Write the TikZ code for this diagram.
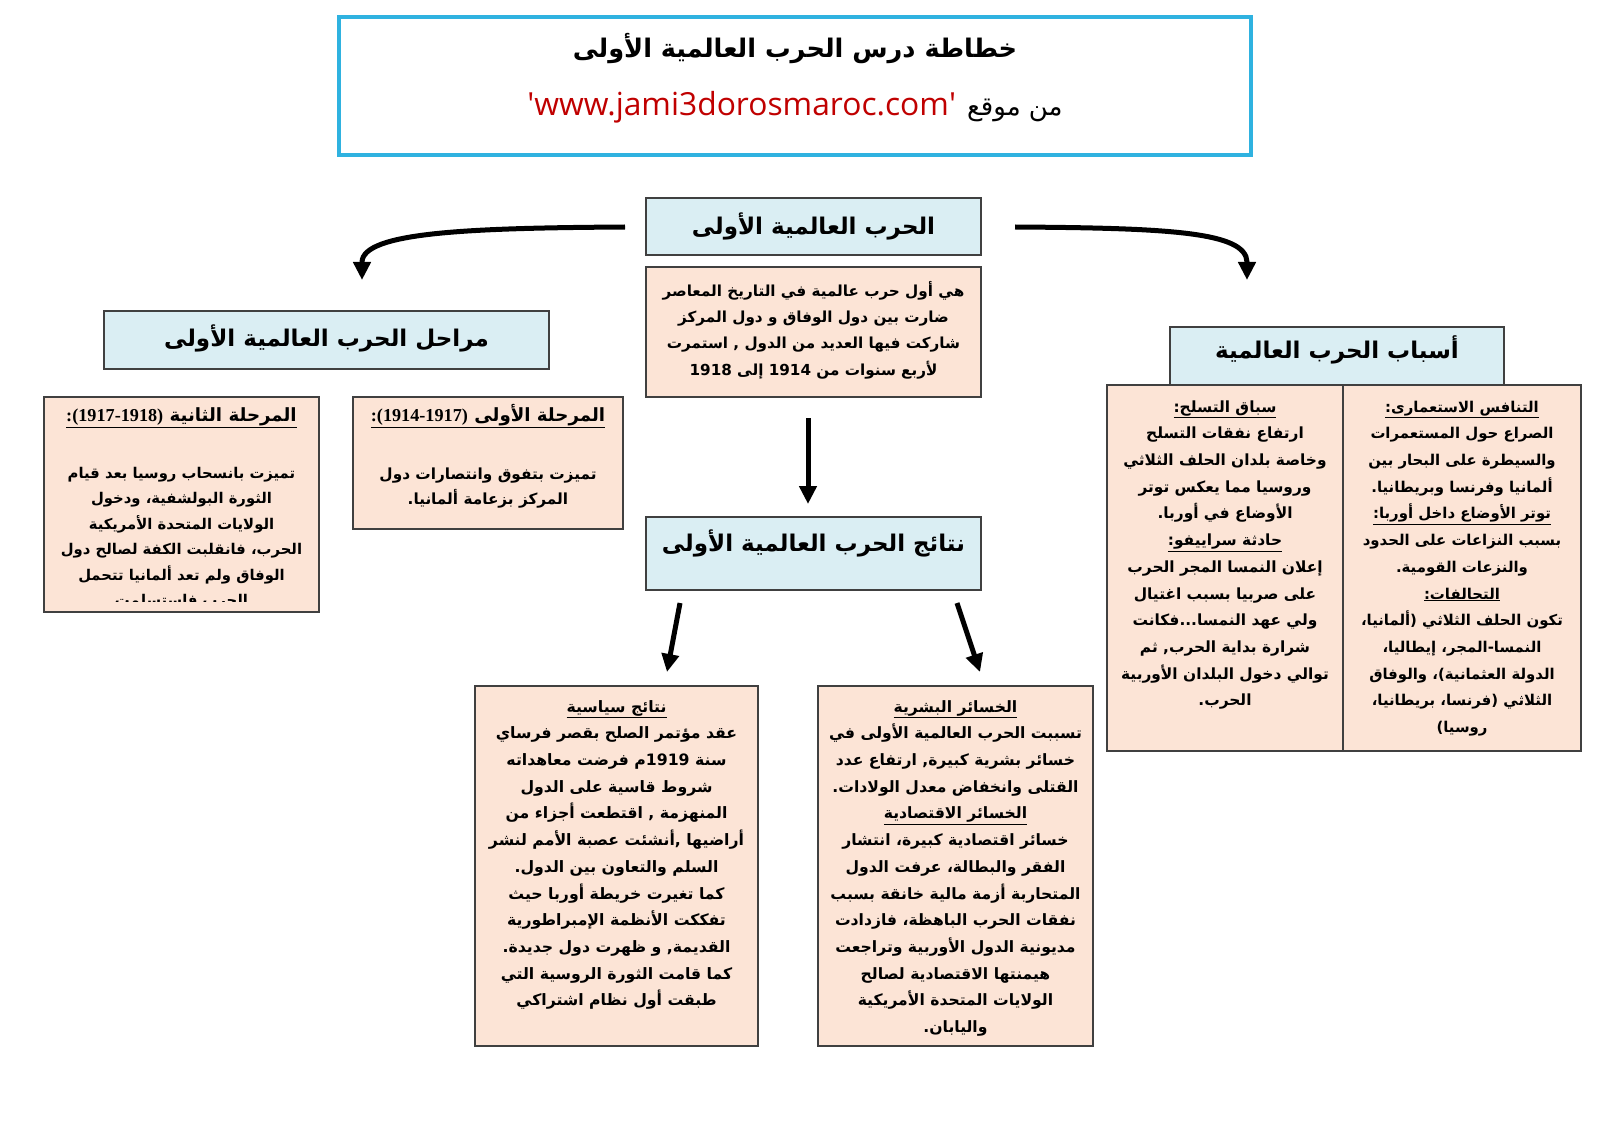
\documentclass[tikz,border=0pt]{standalone}
\usepackage{fontspec}
\usetikzlibrary{arrows.meta}
\TeXXeTstate=1
\newfontfamily\ar[Script=Arabic]{DejaVu Sans}
\newfontfamily\urlf{Open Sans}
\newfontfamily\serifb{Liberation Serif}
\definecolor{hdrblue}{HTML}{DAEEF3}
\definecolor{peach}{HTML}{FCE4D6}
\definecolor{bord}{HTML}{404040}
\definecolor{cyanb}{HTML}{2FB2E0}
\definecolor{urlred}{HTML}{C00000}
\newcommand\ArL[1]{\strut\beginR #1\endR}
\newcommand\ArU[1]{\strut\underline{\hbox{\beginR #1\endR}}}
\newcommand\bfs[2]{\fontsize{#1}{#2}\selectfont\ar\bfseries}
\begin{document}
\begin{tikzpicture}[x=1pt,y=-1pt,
  hdr/.style={draw=bord, line width=1.5pt, fill=hdrblue, inner sep=0pt, outer sep=0pt, anchor=north west},
  pbox/.style={draw=bord, line width=1.3pt, fill=peach, inner sep=0pt, outer sep=0pt, anchor=north west},
  body/.style={anchor=north, inner sep=0pt, align=center},
  ptitle/.style={anchor=base, inner sep=0pt, font=\bfs{18.2}{25.5}},
  hdrtxt/.style={anchor=base, inner sep=0pt, font=\bfs{23}{30}},
  arr/.style={line width=5pt, -{Triangle[length=18pt,width=17pt]}}]
\useasboundingbox (0,0) rectangle (1600,1131);
\fill[white] (0,0) rectangle (1600,1131);

% title box
\node[draw=cyanb, line width=3.5pt, inner sep=0pt, outer sep=0pt, anchor=north west,
      minimum width=912pt, minimum height=138pt] (titlebox) at (339,17) {};
\node[anchor=base, inner sep=0pt, font=\bfs{25.6}{32}] (title) at (795,58)
  {\beginR خطاطة درس الحرب العالمية الأولى\endR};
\node[anchor=base, inner sep=0pt] (url) at (795,116)
  {{\urlf\fontsize{31.8}{38}\selectfont\color{urlred}\textquotesingle www.jami3dorosmaroc.com\textquotesingle}\hspace{11pt}{\ar\fontsize{26}{32}\selectfont\beginR من موقع\endR}};

% central header and description
\node[hdr, minimum width=335pt, minimum height=57pt] (main) at (646,198) {};
\node[hdrtxt] (maint) at (813.5,235) {\beginR الحرب العالمية الأولى\endR};
\node[pbox, minimum width=335pt, minimum height=130pt] (desc) at (646,267) {};
\node[body, font=\bfs{15.2}{26.3}] (desct) at (813.5,277.6) {%
  \ArL{هي أول حرب عالمية في التاريخ المعاصر}\\
  \ArL{ضارت بين دول الوفاق و دول المركز}\\
  \ArL{شاركت فيها العديد من الدول , استمرت}\\
  \ArL{لأربع سنوات من 1914 إلى 1918}};

% phases
\node[hdr, minimum width=445pt, minimum height=58pt] (phases) at (104,311) {};
\node[hdrtxt] (phasest) at (326.5,347) {\beginR مراحل الحرب العالمية الأولى\endR};

\node[pbox, minimum width=270pt, minimum height=132pt] (ph1) at (353,397) {};
\node[ptitle] (ph1t) at (488,421) {\ArU{المرحلة الأولى \beginL{\serifb\bfseries :(1914-1917)}\endL}};
\node[body, font=\bfs{15.3}{25.5}] (ph1b) at (488,461) {%
  \ArL{تميزت بتفوق وانتصارات دول}\\
  \ArL{المركز بزعامة ألمانيا.}};

\node[pbox, minimum width=275pt, minimum height=215pt] (ph2) at (44,397) {};
\node[ptitle] (ph2t) at (181.5,421) {\ArU{المرحلة الثانية \beginL{\serifb\bfseries :(1917-1918)}\endL}};
\begin{scope}
\clip (46,430) rectangle (317,601);
\node[body, font=\bfs{14.8}{25.5}] (ph2b) at (181.5,460) {%
  \ArL{تميزت بانسحاب روسيا بعد قيام}\\
  \ArL{الثورة البولشفية، ودخول}\\
  \ArL{الولايات المتحدة الأمريكية}\\
  \ArL{الحرب، فانقلبت الكفة لصالح دول}\\
  \ArL{الوفاق ولم تعد ألمانيا تتحمل}\\
  \ArL{الحرب فاستسلمت}};
\end{scope}

% causes
\node[pbox, minimum width=236pt, minimum height=366pt] (cause1) at (1107,385) {};
\node[pbox, minimum width=238pt, minimum height=366pt] (cause2) at (1343,385) {};
\node[hdr, minimum width=334pt, minimum height=58pt] (causes) at (1170,327) {};
\node[hdrtxt] (causest) at (1337,358) {\beginR أسباب الحرب العالمية\endR};

\node[body, font=\bfs{15.4}{26.7}] (cause1t) at (1225,393.3) {%
  \ArU{سباق التسلح:}\\
  \ArL{ارتفاع نفقات التسلح}\\
  \ArL{وخاصة بلدان الحلف الثلاثي}\\
  \ArL{وروسيا مما يعكس توتر}\\
  \ArL{الأوضاع في أوربا.}\\
  \ArU{حادثة سراييفو:}\\
  \ArL{إعلان النمسا المجر الحرب}\\
  \ArL{على صربيا  بسبب اغتيال}\\
  \ArL{ولي عهد النمسا...فكانت}\\
  \ArL{شرارة بداية الحرب, ثم}\\
  \ArL{توالي دخول البلدان الأوربية}\\
  \ArL{الحرب.}};

\node[body, font=\bfs{14.9}{26.7}] (cause2t) at (1462,393.3) {%
  \ArU{التنافس الاستعمارى:}\\
  \ArL{الصراع حول المستعمرات}\\
  \ArL{والسيطرة على البحار بين}\\
  \ArL{ألمانيا وفرنسا وبريطانيا.}\\
  \ArU{توتر الأوضاع داخل أوربا:}\\
  \ArL{بسبب النزاعات على الحدود}\\
  \ArL{والنزعات القومية.}\\
  \ArU{التحالفات:}\\
  \ArL{تكون الحلف الثلاثي (ألمانيا،}\\
  \ArL{النمسا-المجر، إيطاليا،}\\
  \ArL{الدولة العثمانية)، والوفاق}\\
  \ArL{الثلاثي (فرنسا، بريطانيا،}\\
  \ArL{روسيا)}};

% results
\node[hdr, minimum width=335pt, minimum height=73pt] (res) at (646,517) {};
\node[hdrtxt] (rest) at (813.5,551) {\beginR نتائج الحرب العالمية الأولى\endR};

\node[pbox, minimum width=283pt, minimum height=360pt] (pol) at (475,686) {};
\node[body, font=\bfs{15.7}{26.7}] (polt) at (616.5,693.3) {%
  \ArU{نتائج سياسية}\\
  \ArL{عقد مؤتمر الصلح بقصر فرساي}\\
  \ArL{سنة 1919م فرضت معاهداته}\\
  \ArL{شروط قاسية على الدول}\\
  \ArL{المنهزمة , اقتطعت أجزاء من}\\
  \ArL{أراضيها ,أنشئت عصبة الأمم لنشر}\\
  \ArL{السلم والتعاون بين الدول.}\\
  \ArL{كما تغيرت خريطة أوربا حيث}\\
  \ArL{تفككت الأنظمة الإمبراطورية}\\
  \ArL{القديمة,  و ظهرت دول جديدة.}\\
  \ArL{كما قامت الثورة الروسية التي}\\
  \ArL{طبقت أول نظام اشتراكي}};

\node[pbox, minimum width=275pt, minimum height=360pt] (hum) at (818,686) {};
\node[body, font=\bfs{15.6}{26.7}] (humt) at (955.5,693.3) {%
  \ArU{الخسائر البشرية}\\
  \ArL{تسببت الحرب العالمية الأولى في}\\
  \ArL{خسائر بشرية كبيرة, ارتفاع عدد}\\
  \ArL{القتلى وانخفاض معدل الولادات.}\\
  \ArU{الخسائر الاقتصادية}\\
  \ArL{خسائر اقتصادية كبيرة، انتشار}\\
  \ArL{الفقر والبطالة، عرفت الدول}\\
  \ArL{المتحاربة أزمة مالية خانقة بسبب}\\
  \ArL{نفقات الحرب الباهظة، فازدادت}\\
  \ArL{مديونية الدول الأوربية وتراجعت}\\
  \ArL{هيمنتها الاقتصادية لصالح}\\
  \ArL{الولايات المتحدة الأمريكية}\\
  \ArL{واليابان.}};

% arrows
\coordinate (la0) at (625,227);
\coordinate (la1) at (362,280);
\coordinate (ra0) at (1015,227);
\coordinate (ra1) at (1247,280);
\coordinate (ca0) at (808,418);
\coordinate (ca1) at (808,504);
\coordinate (ba0) at (680,603);
\coordinate (ba1) at (667,672);
\coordinate (bb0) at (957,603);
\coordinate (bb1) at (980,672);
\draw[arr] (la0) .. controls (470,228) and (363,232) .. (362,262) -- (la1);
\draw[arr] (ra0) .. controls (1170,228) and (1246,232) .. (1247,262) -- (ra1);
\draw[arr] (ca0) -- (ca1);
\draw[arr] (ba0) -- (ba1);
\draw[arr] (bb0) -- (bb1);
\end{tikzpicture}
\end{document}
